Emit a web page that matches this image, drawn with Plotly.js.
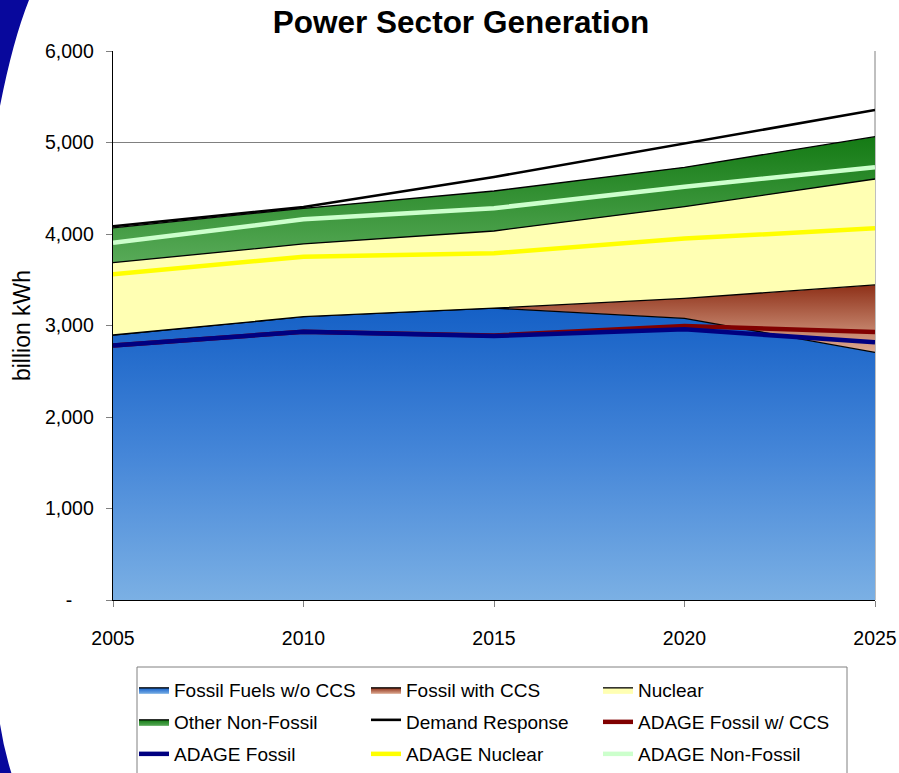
<!DOCTYPE html>
<html>
<head>
<meta charset="utf-8">
<script src="https://cdn.plot.ly/plotly-3.0.1.min.js"></script>
<style>html,body{margin:0;padding:0;background:#fff}#chart{width:899px;height:773px}</style>
</head>
<body>
<div id="chart"></div>
<script>
// ---- data (billion kWh) ----
const years = [2005, 2010, 2015, 2020, 2025];
const fossilNoCCS    = [2896, 3096, 3190, 3078, 2707];
const fossilCCS      = [0, 0, 0, 219, 736];
const nuclear        = [791, 795, 843, 1002, 1158];
const otherNonFossil = [379, 390, 437, 430, 463];
const demandResponse = [19, 14, 153, 262, 291];
// ADAGE model results (plotted positions)
const adageFossilCCS = [2780, 2932, 2890, 2994, 2929];
const adageFossil    = [2780, 2932, 2885, 2958, 2816];
const adageNuclear   = [3559, 3752, 3790, 3950, 4062];
const adageNonFossil = [3905, 4160, 4282, 4517, 4729];
const yTickVals = [0, 1000, 2000, 3000, 4000, 5000, 6000];
const yTickText = ['-\u00a0\u00a0\u00a0\u00a0', '1,000', '2,000', '3,000', '4,000', '5,000', '6,000'];
const xTickVals = [2005, 2010, 2015, 2020, 2025];

// gradient extents derived from stacked data
const s1 = fossilNoCCS;
const s2 = s1.map((v, i) => v + fossilCCS[i]);
const s3 = s2.map((v, i) => v + nuclear[i]);
const s4 = s3.map((v, i) => v + otherNonFossil[i]);

const FONT = 'Liberation Sans, Arial, sans-serif';
const edge = {color: '#000000', width: 1.3};

const traces = [
  {x: years, y: fossilNoCCS, name: 'Fossil Fuels w/o CCS', type: 'scatter', mode: 'lines',
   stackgroup: 'gen', line: edge, legend: 'legend',
   fillgradient: {type: 'vertical', start: 0, stop: Math.max(...s1),
     colorscale: [[0, '#7BB0E4'], [0.5, '#4586D8'], [1, '#1560C6']]}},
  {x: years, y: fossilCCS, name: 'Fossil with CCS', type: 'scatter', mode: 'lines',
   stackgroup: 'gen', line: edge, legend: 'legend',
   fillgradient: {type: 'vertical', start: Math.min(...s1), stop: Math.max(...s2),
     colorscale: [[0, '#DDAA92'], [1, '#8E3018']]}},
  {x: years, y: nuclear, name: 'Nuclear', type: 'scatter', mode: 'lines',
   stackgroup: 'gen', line: edge, fillcolor: '#FFFFB3', legend: 'legend'},
  {x: years, y: otherNonFossil, name: 'Other Non-Fossil', type: 'scatter', mode: 'lines',
   stackgroup: 'gen', line: edge, legend: 'legend2',
   fillgradient: {type: 'vertical', start: Math.min(...s3), stop: Math.max(...s4),
     colorscale: [[0, '#58AA58'], [1, '#147A14']]}},
  {x: years, y: demandResponse, name: 'Demand Response', type: 'scatter', mode: 'lines',
   stackgroup: 'gen', line: {color: '#000000', width: 2.6}, fillcolor: 'rgba(255,255,255,0)',
   legend: 'legend2'},
  {x: years, y: adageFossilCCS, name: 'ADAGE Fossil w/ CCS', type: 'scatter', mode: 'lines',
   line: {color: '#800000', width: 4.5}, legend: 'legend2'},
  {x: years, y: adageFossil, name: 'ADAGE Fossil', type: 'scatter', mode: 'lines',
   line: {color: '#000080', width: 4.5}, legend: 'legend3'},
  {x: years, y: adageNuclear, name: 'ADAGE Nuclear', type: 'scatter', mode: 'lines',
   line: {color: '#FFFF00', width: 4.5}, legend: 'legend3'},
  {x: years, y: adageNonFossil, name: 'ADAGE Non-Fossil', type: 'scatter', mode: 'lines',
   line: {color: '#CCFFCC', width: 4.5}, legend: 'legend3'}
];

// pixel -> paper helpers for decorative shapes/legend placement
const W = 899, H = 773, ML = 113, MR = 24, MT = 51, MB = 173;
const PW = W - ML - MR, PH = H - MT - MB;
const px = v => (v - ML) / PW;
const py = v => (H - MB - v) / PH;

function legendAt(yPix) {
  return {orientation: 'h', x: px(134), xanchor: 'left', y: py(yPix), yanchor: 'middle',
    entrywidth: 187, entrywidthmode: 'pixels', traceorder: 'normal',
    bgcolor: 'rgba(0,0,0,0)', borderwidth: 0,
    font: {family: FONT, size: 19, color: '#000000'}};
}

const swooshTop = `M ${px(0)},${py(0)} L ${px(29)},${py(0)} Q ${px(13)},${py(40)} ${px(0)},${py(106)} Z`;
const swooshBot = `M ${px(0)},${py(724)} Q ${px(4)},${py(750)} ${px(12)},${py(775)} L ${px(0)},${py(775)} Z`;

const layout = {
  width: W, height: H,
  margin: {l: ML, r: MR, t: MT, b: MB, pad: 0, autoexpand: false},
  paper_bgcolor: '#ffffff', plot_bgcolor: '#ffffff',
  font: {family: FONT, color: '#000000', size: 19},
  title: {text: '<b>Power Sector Generation</b>', font: {family: FONT, size: 31.5, color: '#000000'},
    x: 461 / W, xref: 'container', xanchor: 'center', y: 1 - 22 / H, yref: 'container', yanchor: 'middle'},
  showlegend: true,
  legend: legendAt(690),
  legend2: legendAt(722),
  legend3: legendAt(754),
  xaxis: {type: 'linear', range: [2005, 2025], tickvals: xTickVals, ticktext: xTickVals.map(String),
    showgrid: false, zeroline: false, showline: true, linecolor: '#000000', linewidth: 1.3,
    ticks: 'outside', ticklen: 6, tickcolor: '#808080', tickwidth: 1,
    tickfont: {family: FONT, size: 19.5, color: '#000000'}, ticklabelstandoff: 14, fixedrange: true},
  yaxis: {range: [0, 6000], tickvals: yTickVals, ticktext: yTickText,
    showgrid: true, gridcolor: '#808080', gridwidth: 1, zeroline: false,
    showline: true, linecolor: '#000000', linewidth: 1.3,
    ticks: 'outside', ticklen: 6, tickcolor: '#808080', tickwidth: 1,
    tickfont: {family: FONT, size: 19.5, color: '#000000'}, ticklabelstandoff: 8,
    title: {text: 'billion kWh', font: {family: FONT, size: 23, color: '#000000'}, standoff: 8},
    fixedrange: true},
  shapes: [
    {type: 'line', xref: 'paper', yref: 'paper', x0: 1, x1: 1, y0: 0, y1: 1,
     line: {color: '#808080', width: 1}, layer: 'below'},
    {type: 'rect', xref: 'paper', yref: 'paper', x0: px(137), x1: px(847), y0: py(667), y1: py(780),
     line: {color: '#808080', width: 1}, fillcolor: 'rgba(0,0,0,0)', layer: 'above'},
    {type: 'path', xref: 'paper', yref: 'paper', path: swooshTop, fillcolor: '#08089C',
     line: {width: 0}, layer: 'above'},
    {type: 'path', xref: 'paper', yref: 'paper', path: swooshBot, fillcolor: '#08089C',
     line: {width: 0}, layer: 'above'}
  ]
};

Plotly.newPlot('chart', traces, layout, {displayModeBar: false, staticPlot: true});
</script>
</body>
</html>
